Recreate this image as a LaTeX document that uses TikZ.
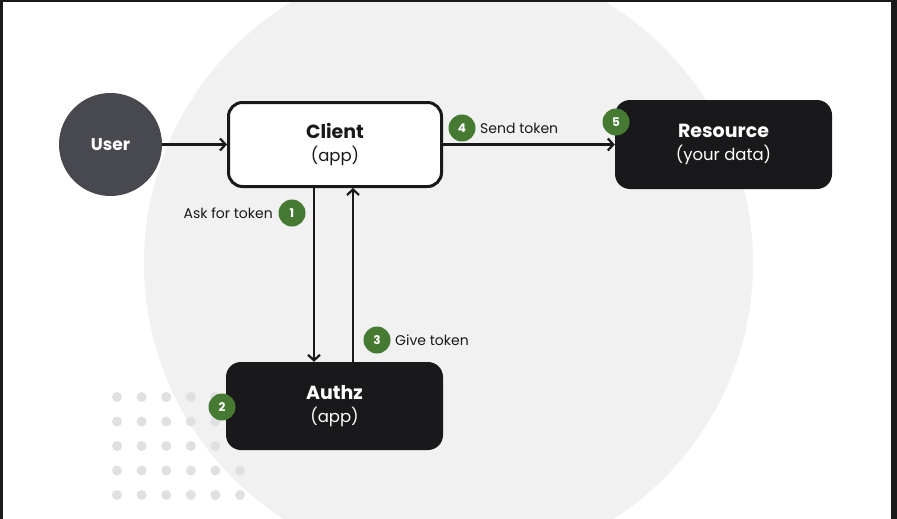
\documentclass[tikz,border=0pt]{standalone}
\usepackage{fontspec}
\setmainfont{Poppins}
\usetikzlibrary{arrows.meta}
\definecolor{boxdark}{HTML}{19191B}
\definecolor{bgcircle}{HTML}{F1F1F1}
\definecolor{badgegreen}{HTML}{467A32}
\definecolor{usergray}{HTML}{48484F}
\definecolor{dotgray}{HTML}{E0E0E3}
\definecolor{framedark}{HTML}{1A1A1A}
\tikzset{
  arr/.style={draw=boxdark, line width=2.2pt, -{Straight Barb[length=5.5pt,width=12pt,line width=2.2pt]}},
  darkbox/.style={rectangle, rounded corners=15pt, fill=boxdark, text=white, minimum width=217pt, minimum height=88pt, align=center, inner sep=0pt},
  lightbox/.style={rectangle, rounded corners=14pt, fill=white, draw=boxdark, line width=3pt, text=boxdark, minimum width=213pt, minimum height=84pt, align=center, inner sep=0pt},
  badge/.style={circle, fill=badgegreen, text=white, minimum size=27pt, inner sep=0pt, font=\fontsize{12}{12}\selectfont\bfseries},
  lbl/.style={text=boxdark, inner sep=0pt, font=\fontsize{14}{16}\selectfont}
}
\newcommand{\boxtext}[2]{{\fontsize{19}{22}\selectfont\bfseries #1}\\[7pt]{\fontsize{16.5}{20}\selectfont #2}}
\begin{document}
\begin{tikzpicture}[x=1pt,y=-1pt]
\useasboundingbox (0,0) rectangle (897,519);
\fill[white] (0,0) rectangle (897,519);
% frame
\fill[framedark] (0,0) rectangle (897,2.5);
\fill[framedark] (0,0) rectangle (2.5,519);
\fill[framedark] (891,0) rectangle (897,519);
% background circle
\begin{scope}
\clip (2.5,2.5) rectangle (891,519);
\fill[bgcircle] (448.5,263) circle[radius=304.5pt];
\end{scope}
% dots
\foreach \i in {0,...,5}
  \foreach \j in {0,...,4}
    \fill[dotgray] ({117+24.6*\i},{397+24.5*\j}) circle[radius=5pt];
% nodes
\node[circle, fill=usergray, minimum size=103pt, inner sep=0pt, text=white, font=\fontsize{17}{20}\selectfont\bfseries] (user) at (110.5,144.5) {User};
\node[lightbox] (client) at (335,144.5) {\boxtext{Client}{(app)}};
\node[darkbox] (authz) at (334.5,406) {\boxtext{Authz}{(app)}};
\node[darkbox, minimum height=89pt] (res) at (723.5,144.5) {\boxtext{Resource}{(your data)}};
% connectors
\coordinate (xd) at (314,0);
\coordinate (xu) at (353,0);
\draw[arr] (user) -- (client);
\draw[arr] (client.east) -- (res.west);
\draw[arr] (client.south -| xd) -- (authz.north -| xd);
\draw[arr] (authz.north -| xu) -- (client.south -| xu);
% badges
\node[badge] (b1) at (292,213) {1};
\node[badge] (b2) at (222,407) {2};
\node[badge] (b3) at (377,340) {3};
\node[badge] (b4) at (462,128) {4};
\node[badge] (b5) at (616,122) {5};
% labels
\node[lbl, anchor=east] (l1) at (273,213) {Ask for token};
\node[lbl, anchor=west] (l3) at (395,340) {Give token};
\node[lbl, anchor=west] (l4) at (480,128) {Send token};
\end{tikzpicture}
\end{document}
